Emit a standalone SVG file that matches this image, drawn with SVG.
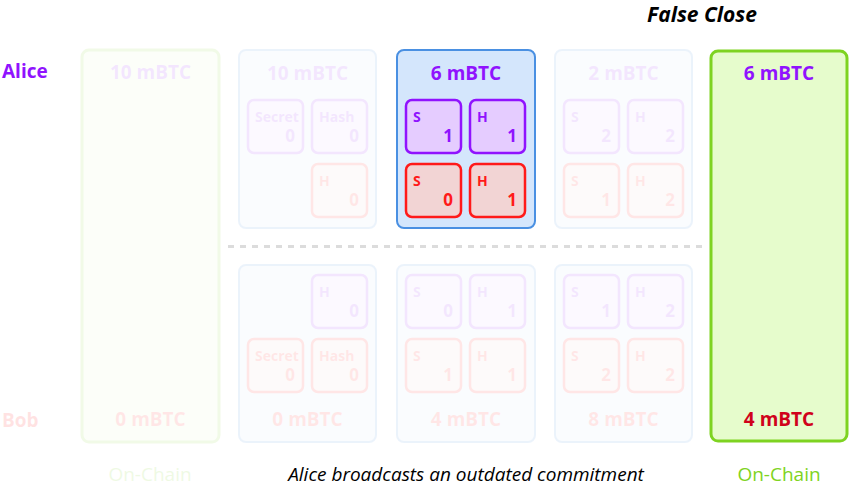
<svg xmlns="http://www.w3.org/2000/svg" width="850" height="487" viewBox="0 0 850 487">
<style>
text{font-family:"Open Sans","Noto Sans","Liberation Sans",sans-serif}
.amt{font-size:19px;font-weight:700;text-anchor:middle}
.who{font-size:19px;font-weight:700}
.lbl{font-size:14px;font-weight:700}
.num{font-size:17px;font-weight:700;text-anchor:end}
.pur{fill:#9013fe}
.red{fill:#ff1a1a}
.dred{fill:#d0021b}
.grn{fill:#7ed321}
.col{fill:#d4e6fc;stroke:#4a90e2;stroke-width:2}
.chain{fill:#e6fccc;stroke:#7ed321;stroke-width:3}
.bp{fill:#e5ccff;stroke:#9013fe;stroke-width:2.5}
.br{fill:#f2d4d4;stroke:#ff1a1a;stroke-width:2.5}
.faded{opacity:0.1}
.cap{font-size:19px;text-anchor:middle}
</style>

<text x="2" y="78" class="who pur">Alice</text>
<text x="2" y="427" class="who red" opacity="0.12">Bob</text>
<text x="702" y="22" style="font-size:21px;font-weight:700;font-style:italic;text-anchor:middle" fill="#000">False Close</text>

<g id="connectors">
<line x1="228" y1="246.5" x2="704" y2="246.5" stroke="#dcdcdc" stroke-width="3" stroke-dasharray="6 6"/>
</g>

<g id="onchain-open" class="faded">
<rect x="82" y="50" width="137" height="392" rx="7" class="chain"/>
<text x="150.5" y="79" class="amt pur">10 mBTC</text>
<text x="150.5" y="426" class="amt red">0 mBTC</text>
</g>

<g id="commit0-alice" class="faded">
<rect x="239" y="50" width="137" height="178" rx="7" class="col"/>
<text x="307.5" y="80" class="amt pur">10 mBTC</text>
<rect x="248" y="100" width="55" height="53" rx="6" class="bp"/>
<text x="255" y="122" class="lbl pur">Secret</text><text x="295" y="142" class="num pur">0</text>
<rect x="312" y="100" width="55" height="53" rx="6" class="bp"/>
<text x="319" y="122" class="lbl pur">Hash</text><text x="359" y="142" class="num pur">0</text>
<rect x="312" y="164" width="55" height="53" rx="6" class="br"/>
<text x="319" y="186" class="lbl red">H</text><text x="359" y="206" class="num red">0</text>
</g>

<g id="commit0-bob" class="faded">
<rect x="239" y="265" width="137" height="177" rx="7" class="col"/>
<rect x="312" y="275" width="55" height="53" rx="6" class="bp"/>
<text x="319" y="297" class="lbl pur">H</text><text x="359" y="317" class="num pur">0</text>
<rect x="248" y="339" width="55" height="53" rx="6" class="br"/>
<text x="255" y="361" class="lbl red">Secret</text><text x="295" y="381" class="num red">0</text>
<rect x="312" y="339" width="55" height="53" rx="6" class="br"/>
<text x="319" y="361" class="lbl red">Hash</text><text x="359" y="381" class="num red">0</text>
<text x="307.5" y="426" class="amt red">0 mBTC</text>
</g>

<g id="commit1-alice">
<rect x="397" y="50" width="138" height="178" rx="7" class="col"/>
<text x="466" y="80" class="amt pur">6 mBTC</text>
<rect x="406" y="100" width="55" height="53" rx="6" class="bp"/>
<text x="413" y="122" class="lbl pur">S</text><text x="453" y="142" class="num pur">1</text>
<rect x="470" y="100" width="55" height="53" rx="6" class="bp"/>
<text x="477" y="122" class="lbl pur">H</text><text x="517" y="142" class="num pur">1</text>
<rect x="406" y="164" width="55" height="53" rx="6" class="br"/>
<text x="413" y="186" class="lbl red">S</text><text x="453" y="206" class="num red">0</text>
<rect x="470" y="164" width="55" height="53" rx="6" class="br"/>
<text x="477" y="186" class="lbl red">H</text><text x="517" y="206" class="num red">1</text>
</g>

<g id="commit1-bob" class="faded">
<rect x="397" y="265" width="138" height="177" rx="7" class="col"/>
<rect x="406" y="275" width="55" height="53" rx="6" class="bp"/>
<text x="413" y="297" class="lbl pur">S</text><text x="453" y="317" class="num pur">0</text>
<rect x="470" y="275" width="55" height="53" rx="6" class="bp"/>
<text x="477" y="297" class="lbl pur">H</text><text x="517" y="317" class="num pur">1</text>
<rect x="406" y="339" width="55" height="53" rx="6" class="br"/>
<text x="413" y="361" class="lbl red">S</text><text x="453" y="381" class="num red">1</text>
<rect x="470" y="339" width="55" height="53" rx="6" class="br"/>
<text x="477" y="361" class="lbl red">H</text><text x="517" y="381" class="num red">1</text>
<text x="466" y="426" class="amt red">4 mBTC</text>
</g>

<g id="commit2-alice" class="faded">
<rect x="555" y="50" width="137" height="178" rx="7" class="col"/>
<text x="623.5" y="80" class="amt pur">2 mBTC</text>
<rect x="564" y="100" width="55" height="53" rx="6" class="bp"/>
<text x="571" y="122" class="lbl pur">S</text><text x="611" y="142" class="num pur">2</text>
<rect x="628" y="100" width="55" height="53" rx="6" class="bp"/>
<text x="635" y="122" class="lbl pur">H</text><text x="675" y="142" class="num pur">2</text>
<rect x="564" y="164" width="55" height="53" rx="6" class="br"/>
<text x="571" y="186" class="lbl red">S</text><text x="611" y="206" class="num red">1</text>
<rect x="628" y="164" width="55" height="53" rx="6" class="br"/>
<text x="635" y="186" class="lbl red">H</text><text x="675" y="206" class="num red">2</text>
</g>

<g id="commit2-bob" class="faded">
<rect x="555" y="265" width="137" height="177" rx="7" class="col"/>
<rect x="564" y="275" width="55" height="53" rx="6" class="bp"/>
<text x="571" y="297" class="lbl pur">S</text><text x="611" y="317" class="num pur">1</text>
<rect x="628" y="275" width="55" height="53" rx="6" class="bp"/>
<text x="635" y="297" class="lbl pur">H</text><text x="675" y="317" class="num pur">2</text>
<rect x="564" y="339" width="55" height="53" rx="6" class="br"/>
<text x="571" y="361" class="lbl red">S</text><text x="611" y="381" class="num red">2</text>
<rect x="628" y="339" width="55" height="53" rx="6" class="br"/>
<text x="635" y="361" class="lbl red">H</text><text x="675" y="381" class="num red">2</text>
<text x="623.5" y="426" class="amt red">8 mBTC</text>
</g>

<g id="onchain-close">
<rect x="711" y="51" width="136" height="390" rx="7" class="chain"/>
<text x="779" y="80" class="amt pur">6 mBTC</text>
<text x="779" y="426" class="amt dred">4 mBTC</text>
</g>

<text x="150" y="481" class="cap grn" opacity="0.12">On-Chain</text>
<text x="779" y="481" class="cap grn">On-Chain</text>
<text x="466" y="481" style="font-size:19px;font-style:italic;text-anchor:middle" fill="#000">Alice broadcasts an outdated commitment</text>
</svg>
